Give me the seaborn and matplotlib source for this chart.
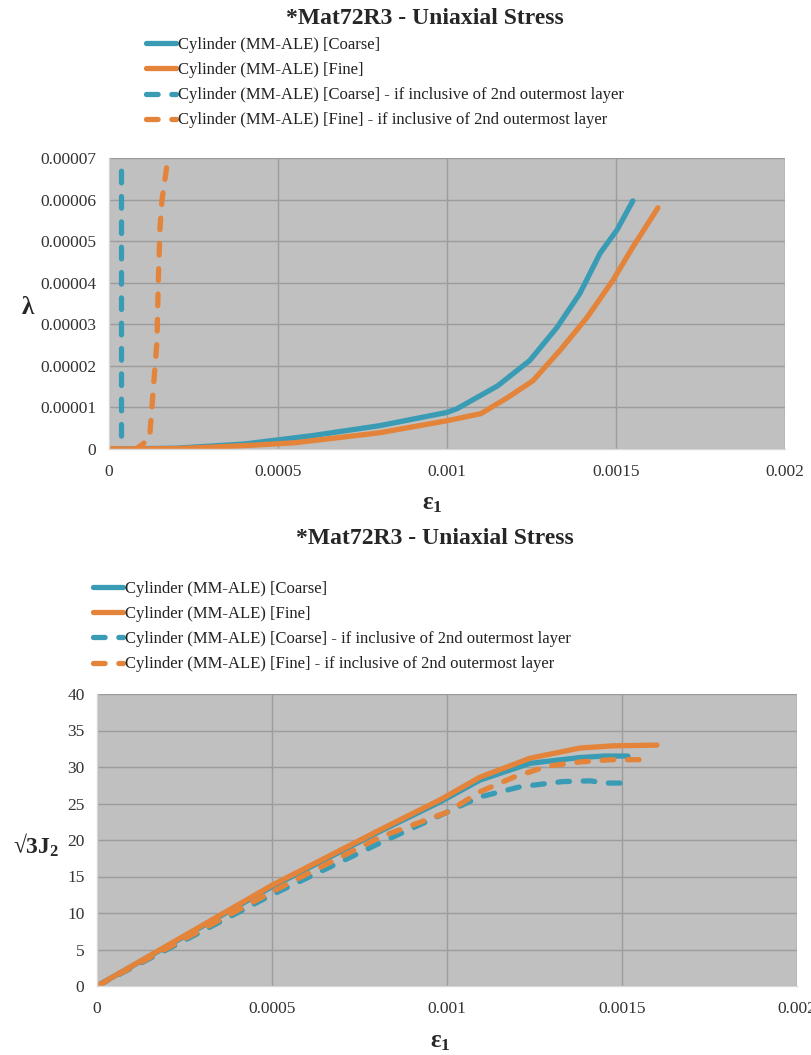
import matplotlib
matplotlib.use("Agg")
import matplotlib.pyplot as plt
import seaborn as sns

# ── Data ───────────────────────────────────────────────────────────────────────
# Top panel: lambda vs eps1
lam_coarse_x = [0, 0.0002, 0.0004, 0.0005, 0.0006, 0.0008, 0.0009, 0.001, 0.00103, 0.00115,
                0.001245, 0.001325, 0.001393, 0.001453, 0.001503, 0.00155]
lam_coarse_y = [0, 0.02e-5, 0.12e-5, 0.22e-5, 0.32e-5, 0.56e-5, 0.72e-5, 0.88e-5, 0.97e-5, 1.52e-5,
                2.13e-5, 2.92e-5, 3.74e-5, 4.71e-5, 5.27e-5, 5.97e-5]

lam_fine_x = [0, 0.0002, 0.0004, 0.00055, 0.0008, 0.001, 0.0011, 0.001178, 0.001254, 0.001334,
              0.001414, 0.001491, 0.00155, 0.001624]
lam_fine_y = [0, 0.01e-5, 0.08e-5, 0.15e-5, 0.39e-5, 0.68e-5, 0.85e-5, 1.23e-5, 1.64e-5, 2.37e-5,
              3.16e-5, 4.06e-5, 4.86e-5, 5.8e-5]

lam_coarse_in_x = [0, 0.000035, 0.000035]
lam_coarse_in_y = [0, 0, 6.8e-5]

lam_fine_in_x = [0, 0.00008, 0.0001, 0.00012, 0.00013, 0.000142, 0.000146, 0.000151, 0.000157, 0.000171]
lam_fine_in_y = [0, 0, 0.12e-5, 0.25e-5, 1.33e-5, 2.6e-5, 4.06e-5, 5.34e-5, 6.0e-5, 6.8e-5]

# Bottom panel: sqrt(3 J2) vs eps1
j2_coarse_x = [0, 0.0005, 0.000809, 0.00098, 0.001094, 0.001237, 0.00138, 0.00145, 0.001517]
j2_coarse_y = [0, 13.6, 21.2, 25.2, 28.2, 30.5, 31.3, 31.5, 31.5]

j2_fine_x = [0, 0.0005, 0.000809, 0.00098, 0.001094, 0.001237, 0.00138, 0.001474, 0.0016]
j2_fine_y = [0, 13.8, 21.4, 25.5, 28.6, 31.2, 32.6, 32.9, 33.0]

j2_coarse_in_x = [0, 0.0005, 0.000809, 0.00095, 0.001094, 0.00121, 0.00133, 0.00141, 0.00145, 0.00152]
j2_coarse_in_y = [0, 12.5, 19.6, 22.7, 25.9, 27.3, 28.0, 28.1, 27.8, 27.8]

j2_fine_in_x = [0, 0.0005, 0.000809, 0.001, 0.001094, 0.00119, 0.001286, 0.00138, 0.00147, 0.00157]
j2_fine_in_y = [0, 12.9, 20.4, 23.8, 26.6, 28.6, 30.1, 30.7, 31.0, 31.0]

labels = [
    "Cylinder (MM-ALE) [Coarse]",
    "Cylinder (MM-ALE) [Fine]",
    "Cylinder (MM-ALE) [Coarse] - if inclusive of 2nd outermost layer",
    "Cylinder (MM-ALE) [Fine] - if inclusive of 2nd outermost layer",
]
lam_ticks = [0, 0.00001, 0.00002, 0.00003, 0.00004, 0.00005, 0.00006, 0.00007]
lam_ticklabels = ["0", "0.00001", "0.00002", "0.00003", "0.00004", "0.00005", "0.00006", "0.00007"]
j2_ticks = [0, 5, 10, 15, 20, 25, 30, 35, 40]
x_ticks = [0, 0.0005, 0.001, 0.0015, 0.002]
x_ticklabels = ["0", "0.0005", "0.001", "0.0015", "0.002"]

BLUE = "#3A9BB5"
ORANGE = "#E3843A"
LW = 3.8
DASH = (0, (2.2, 2.6))

# ── Style ──────────────────────────────────────────────────────────────────────
sns.set_style("white")
plt.rcParams["font.family"] = ["Liberation Serif", "DejaVu Serif"]
plt.rcParams["mathtext.fontset"] = "custom"
plt.rcParams["mathtext.rm"] = "Liberation Serif"
plt.rcParams["mathtext.bf"] = "Liberation Serif:bold"
plt.rcParams["mathtext.it"] = "Liberation Serif:italic"

fig = plt.figure(figsize=(8.11, 10.55), dpi=100)
ax1 = fig.add_axes([109 / 811, 1 - 449 / 1055, 676 / 811, 291 / 1055])
ax2 = fig.add_axes([97 / 811, 1 - 986 / 1055, 700 / 811, 292 / 1055])


def draw(ax, series):
    handles = []
    for x, y, color, ls in series:
        sns.lineplot(x=x, y=y, ax=ax, color=color, linewidth=LW, linestyle=ls,
                     estimator=None, sort=False, legend=False)
        line = ax.lines[-1]
        line.set_solid_capstyle("round")
        line.set_dash_capstyle("round")
        line.set_solid_joinstyle("round")
        handles.append(line)
    return handles


def style_axes(ax):
    ax.set_facecolor("#C0C0C0")
    ax.grid(True, color="#9C9C9C", linewidth=1.0)
    ax.set_axisbelow(True)
    for s in ["top", "right"]:
        ax.spines[s].set_visible(False)
    for s in ["left", "bottom"]:
        ax.spines[s].set_color("#D9D9D9")
        ax.spines[s].set_linewidth(1.0)
    ax.tick_params(axis="both", length=5, color="#BFBFBF", labelsize=12.5,
                   labelcolor="#333333", direction="out", pad=4)
    ax.set_xlim(0, 0.002)
    ax.set_xticks(x_ticks)
    ax.set_xticklabels(x_ticklabels)
    ax.set_xlabel("")
    ax.set_ylabel("")
    ax.tick_params(axis="x", pad=5.5)


# ── Top panel ──────────────────────────────────────────────────────────────────
h1 = draw(ax1, [
    (lam_coarse_x, lam_coarse_y, BLUE, "-"),
    (lam_fine_x, lam_fine_y, ORANGE, "-"),
    (lam_coarse_in_x, lam_coarse_in_y, BLUE, DASH),
    (lam_fine_in_x, lam_fine_in_y, ORANGE, DASH),
])
style_axes(ax1)
ax1.set_ylim(0, 0.00007)
ax1.set_yticks(lam_ticks)
ax1.set_yticklabels(lam_ticklabels)

# ── Bottom panel ───────────────────────────────────────────────────────────────
h2 = draw(ax2, [
    (j2_coarse_x, j2_coarse_y, BLUE, "-"),
    (j2_fine_x, j2_fine_y, ORANGE, "-"),
    (j2_coarse_in_x, j2_coarse_in_y, BLUE, DASH),
    (j2_fine_in_x, j2_fine_in_y, ORANGE, DASH),
])
style_axes(ax2)
ax2.set_ylim(0, 40)
ax2.set_yticks(j2_ticks)
ax2.set_yticklabels([str(t) for t in j2_ticks])

# ── Titles, legends, axis labels ──────────────────────────────────────────────
title = "*Mat72R3 - Uniaxial Stress"
fig.text(425 / 811, 1 - 18 / 1055, title, ha="center", va="center",
         fontsize=17, fontweight="bold")
fig.text(435 / 811, 1 - 538 / 1055, title, ha="center", va="center",
         fontsize=17, fontweight="bold")

leg_kw = dict(loc="upper left", frameon=False, fontsize=12, borderaxespad=0,
              borderpad=0, handlelength=1.8, handletextpad=0.1, labelspacing=0.55,
              labelcolor="#222222")
fig.legend(h1, labels, bbox_to_anchor=(146 / 811, 1 - 37 / 1055), **leg_kw)
fig.legend(h2, labels, bbox_to_anchor=(93 / 811, 1 - 581 / 1055), **leg_kw)

fig.text(28 / 811, 1 - 307 / 1055, "λ", ha="center", va="center",
         fontsize=18, fontweight="bold")
fig.text(432 / 811, 1 - 504 / 1055, r"$\mathbf{ε_1}$", ha="center", va="center",
         fontsize=18)
fig.text(36 / 811, 1 - 845 / 1055, r"$\mathbf{√3J_2}$", ha="center", va="center",
         fontsize=17)
fig.text(440 / 811, 1 - 1042 / 1055, r"$\mathbf{ε_1}$", ha="center", va="center",
         fontsize=18)

fig.savefig("out.png", dpi=100, facecolor="white")
